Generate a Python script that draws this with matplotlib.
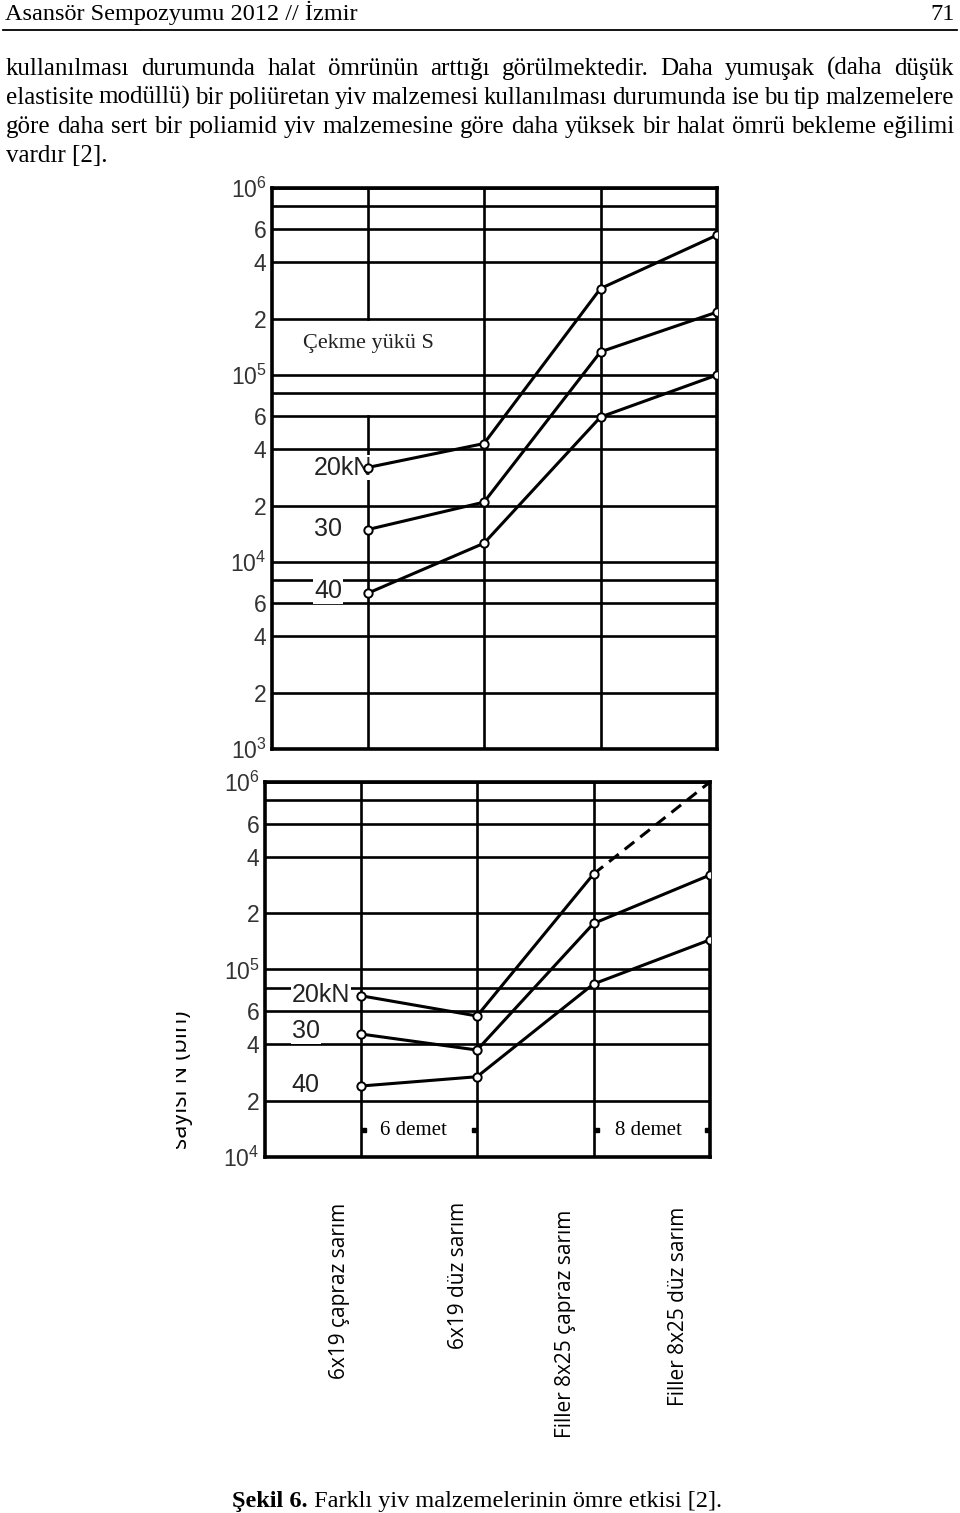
import matplotlib
matplotlib.use('Agg')
import matplotlib.pyplot as plt
from matplotlib.patches import Rectangle
import numpy as np

W, H = 960, 1513

# veriler
categories = ['6x19 çapraz sarım', '6x19 düz sarım', 'Filler 8x25 çapraz sarım', 'Filler 8x25 düz sarım']
x_pos = [1, 2, 3, 4]
load_labels = ['20kN', '30', '40']

top_20 = [3.2e4, 4.3e4, 2.9e5, 5.6e5]
top_30 = [1.49e4, 2.09e4, 1.33e5, 2.17e5]
top_40 = [6.8e3, 1.26e4, 5.96e4, 1.0e5]

bot_20 = [7.25e4, 5.65e4, 3.23e5]
bot_20_dashed = [3.23e5, 1.0e6]
bot_30 = [4.53e4, 3.72e4, 1.76e5, 3.19e5]
bot_40 = [2.39e4, 2.68e4, 8.37e4, 1.44e5]

top_grid = [1e3, 2e3, 4e3, 6e3, 8e3, 1e4, 2e4, 4e4, 6e4, 8e4, 1e5, 2e5, 4e5, 6e5, 8e5, 1e6]
top_ticklabels = ['$\\mathregular{10^3}$', '2', '4', '6', '', '$\\mathregular{10^4}$', '2', '4', '6', '',
                  '$\\mathregular{10^5}$', '2', '4', '6', '', '$\\mathregular{10^6}$']
bot_grid = top_grid[5:]
bot_ticklabels = top_ticklabels[5:]

header = 'Asansör Sempozyumu 2012 // İzmir'
page_no = '71'
paragraph = [
    'kullanılması durumunda halat ömrünün arttığı görülmektedir. Daha yumuşak (daha düşük',
    'elastisite modüllü) bir poliüretan yiv malzemesi kullanılması durumunda ise bu tip malzemelere',
    'göre daha sert bir poliamid yiv malzemesine göre daha yüksek bir halat ömrü bekleme eğilimi',
    'vardır [2].',
]
caption_bold = 'Şekil 6.'
caption_rest = ' Farklı yiv malzemelerinin ömre etkisi [2].'
ylabel = 'sayısı N (bin)'

fig = plt.figure(figsize=(W / 100, H / 100), dpi=100)
fig.patch.set_facecolor('white')


def fx(px):
    return px / W


def fy(py):
    return 1 - py / H


def axes_px(l, t, r, b):
    return fig.add_axes([fx(l), fy(b), (r - l) / W, (b - t) / H])


serif = 'Liberation Serif'
sans = 'Liberation Sans'
lw_line = 2.2
lw_grid = 1.9


def setup(ax, grid, labels, ymin, ymax):
    ax.set_yscale('log')
    ax.set_xlim(0.18, 4.0)
    ax.set_ylim(ymin, ymax)
    ax.set_yticks(grid)
    ax.set_yticklabels(labels)
    ax.minorticks_off()
    ax.set_xticks([])
    ax.tick_params(axis='y', length=0, pad=4, labelsize=16.5, labelcolor='#333333')
    for lab in ax.get_yticklabels():
        lab.set_fontfamily(sans)
    for y in grid:
        ax.axhline(y, color='black', lw=lw_grid, zorder=1)
    for s in ax.spines.values():
        s.set_linewidth(2.6)


def series(ax, xs, ys, ls='-'):
    ax.plot(xs, ys, color='black', lw=lw_line, ls=ls, zorder=3)


def marks(ax, xs, ys):
    ax.plot(xs, ys, ls='none', marker='o', ms=6, mfc='white', mec='black', mew=1.4, zorder=4)


# ust grafik
ax1 = axes_px(272, 188, 717, 749)
setup(ax1, top_grid, top_ticklabels, 1e3, 1e6)
ax1.axvline(x_pos[0], ymin=0, ymax=np.log10(6e4 / 1e3) / 3, color='black', lw=lw_grid, zorder=1)
ax1.axvline(x_pos[0], ymin=np.log10(2e5 / 1e3) / 3, ymax=1, color='black', lw=lw_grid, zorder=1)
for xv in x_pos[1:3]:
    ax1.axvline(xv, color='black', lw=lw_grid, zorder=1)
for ys in (top_20, top_30, top_40):
    series(ax1, x_pos, ys)
    marks(ax1, x_pos, ys)
ax1.text(0.45, 1.47e5, 'Çekme yükü S', family=serif, fontsize=16, va='center', ha='left', zorder=5,
         color='#222222', bbox=dict(fc='white', ec='none', pad=1))
for lab, yv in zip(load_labels, [3.2e4, 1.5e4, 7.0e3]):
    ax1.text(0.54, yv, lab, family=sans, fontsize=18, va='center', ha='left', color='#222222', zorder=2,
             bbox=dict(fc='white', ec='none', pad=0.5))

# alt grafik
ax2 = axes_px(265, 782, 710, 1157)
setup(ax2, bot_grid, bot_ticklabels, 1e4, 1e6)
for xv in x_pos[:3]:
    ax2.axvline(xv, color='black', lw=lw_grid, zorder=1)
series(ax2, x_pos[:3], bot_20)
series(ax2, x_pos[2:], bot_20_dashed, ls=(0, (4, 2.5)))
marks(ax2, x_pos[:3], bot_20)
for ys in (bot_30, bot_40):
    series(ax2, x_pos, ys)
    marks(ax2, x_pos, ys)
for lab, yv in zip(load_labels, [7.3e4, 4.7e4, 2.42e4]):
    ax2.text(0.41, yv, lab, family=sans, fontsize=18, va='center', ha='left', color='#222222', zorder=2,
             bbox=dict(fc='white', ec='none', pad=0.5))
ax2.text((x_pos[0] + x_pos[1]) / 2 - 0.05, 1.39e4, '6 demet', family=serif, fontsize=15, ha='center', va='center')
ax2.text((x_pos[2] + x_pos[3]) / 2 - 0.03, 1.39e4, '8 demet', family=serif, fontsize=15, ha='center', va='center')
ax2.plot([x_pos[0] + 0.03, x_pos[1] - 0.03, x_pos[2] + 0.03, x_pos[3] - 0.03], [1.39e4] * 4,
         ls='none', marker='s', ms=3.5, color='black', zorder=4)

# kesik eksen etiketi (sol tarafi gorunmuyor)
fig.text(fx(187), fy(1080), ylabel, family='Open Sans', fontsize=17, rotation=90, rotation_mode='anchor',
         ha='center', va='baseline')
fig.add_artist(Rectangle((0, fy(1170)), fx(176), (1170 - 980) / H, transform=fig.transFigure,
                         fc='white', ec='none', zorder=10))

# kategori etiketleri
cat_px = [340, 458, 565, 679]
cat_top = [1203, 1202, 1210, 1207]
for lab, cx, ct in zip(categories, cat_px, cat_top):
    fig.text(fx(cx), fy(ct), lab, family='Open Sans', fontsize=15, rotation=90, ha='center', va='top')

# sayfa metni
fig.text(fx(5), fy(20), header, family=serif, fontsize=17.5, va='baseline', ha='left')
fig.text(fx(955), fy(20), page_no, family=serif, fontsize=17.5, va='baseline', ha='right')
fig.add_artist(plt.Line2D([fx(3), fx(957)], [fy(30), fy(30)], color='black', lw=1.3))

renderer = fig.canvas.get_renderer()


def justify(line, y, x0, x1):
    # iki yana yasli satir: her kelime ayri metin
    words = line.split()
    texts = [fig.text(0, fy(y), w, family=serif, fontsize=18, va='baseline') for w in words]
    widths = [t.get_window_extent(renderer).width for t in texts]
    gap = (x1 - x0 - sum(widths)) / (len(words) - 1)
    x = x0
    for t, w in zip(texts, widths):
        t.set_x(fx(x))
        x += w + gap


for i, line in enumerate(paragraph):
    yb = 75 + 29 * i
    if i < len(paragraph) - 1:
        justify(line, yb, 6, 954)
    else:
        fig.text(fx(6), fy(yb), line, family=serif, fontsize=18, va='baseline')

tb = fig.text(fx(232), fy(1507), caption_bold, family=serif, fontsize=17.5, weight='bold', va='baseline')
bw = tb.get_window_extent(renderer).width
fig.text(fx(232 + bw), fy(1507), caption_rest, family=serif, fontsize=17.5, va='baseline')

fig.savefig('out.png', dpi=100)
